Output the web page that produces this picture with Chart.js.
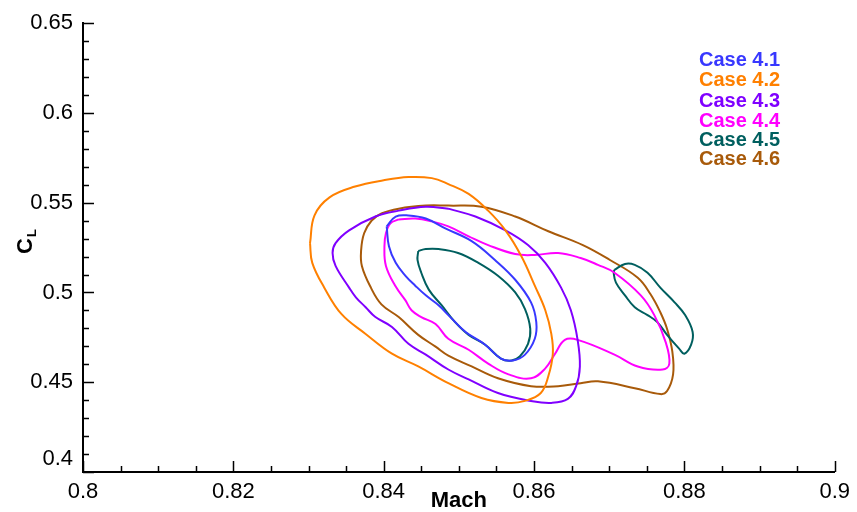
<!DOCTYPE html>
<html>
<head>
<meta charset="utf-8">
<script src="https://cdn.jsdelivr.net/npm/chart.js@4.4.1/dist/chart.umd.min.js"></script>
<style>
  html, body { margin: 0; padding: 0; background: #ffffff; }
  #wrap { width: 857px; height: 512px; }
</style>
</head>
<body>
<div id="wrap"><canvas id="c" width="857" height="512"></canvas></div>
<script>
// ---- data ----
const caseNames = ['Case 4.1', 'Case 4.2', 'Case 4.3', 'Case 4.4', 'Case 4.5', 'Case 4.6'];
const xTickLabels = ['0.8', '0.82', '0.84', '0.86', '0.88', '0.9'];
const yTickLabels = ['0.4', '0.45', '0.5', '0.55', '0.6', '0.65'];

const case41Mach = [0.8404,0.8416,0.8433,0.8456,0.8482,0.8517,0.8548,0.8575,0.8596,0.8603,0.8601,0.8588,0.8572,0.8556,0.8535,0.8509,0.8486,0.8473,0.8456,0.8442,0.8429,0.8416,0.8407,0.8404];
const case41CL   = [0.5368,0.5423,0.5429,0.5412,0.5357,0.5286,0.5181,0.5071,0.4945,0.4835,0.4742,0.4654,0.4621,0.4632,0.4709,0.4780,0.4874,0.4929,0.4984,0.5038,0.5093,0.5165,0.5258,0.5368];

const case42Mach = [0.8302,0.8308,0.8328,0.8362,0.8400,0.8433,0.8464,0.8486,0.8513,0.8539,0.8562,0.8583,0.8601,0.8615,0.8623,0.8625,0.8619,0.8609,0.8588,0.8566,0.8530,0.8486,0.8446,0.8411,0.8376,0.8344,0.8321,0.8305,0.8302];
const case42CL   = [0.5275,0.5430,0.5530,0.5590,0.5625,0.5643,0.5637,0.5604,0.5549,0.5456,0.5346,0.5203,0.5038,0.4901,0.4769,0.4659,0.4533,0.4440,0.4396,0.4385,0.4412,0.4495,0.4588,0.4659,0.4769,0.4879,0.5027,0.5165,0.5275];

const case43Mach = [0.8486,0.8456,0.8420,0.8389,0.8354,0.8336,0.8332,0.8336,0.8354,0.8363,0.8376,0.8389,0.8411,0.8433,0.8456,0.8486,0.8513,0.8552,0.8596,0.8623,0.8645,0.8656,0.8661,0.8658,0.8649,0.8636,0.8615,0.8592,0.8562,0.8522,0.8486];
const case43CL   = [0.5467,0.5478,0.5456,0.5423,0.5346,0.5275,0.5220,0.5148,0.5027,0.4973,0.4918,0.4863,0.4808,0.4714,0.4654,0.4571,0.4516,0.4440,0.4396,0.4385,0.4407,0.4478,0.4588,0.4736,0.4901,0.5027,0.5165,0.5264,0.5346,0.5423,0.5467];

const case44Mach = [0.8420,0.8442,0.8464,0.8486,0.8513,0.8539,0.8575,0.8601,0.8632,0.8662,0.8685,0.8707,0.8742,0.8760,0.8775,0.8780,0.8771,0.8738,0.8707,0.8658,0.8641,0.8628,0.8615,0.8596,0.8566,0.8539,0.8513,0.8486,0.8469,0.8450,0.8437,0.8429,0.8416,0.8403,0.8401,0.8403,0.8409,0.8420];
const case44CL   = [0.5407,0.5412,0.5396,0.5368,0.5313,0.5264,0.5214,0.5209,0.5220,0.5192,0.5154,0.5110,0.4984,0.4874,0.4725,0.4604,0.4571,0.4588,0.4654,0.4736,0.4736,0.4659,0.4577,0.4522,0.4544,0.4604,0.4681,0.4742,0.4824,0.4863,0.4901,0.4956,0.5033,0.5148,0.5258,0.5330,0.5385,0.5407];

const case45aMach = [0.8446,0.8456,0.8473,0.8499,0.8526,0.8552,0.8575,0.8588,0.8595,0.8592,0.8581,0.8570,0.8556,0.8535,0.8513,0.8495,0.8477,0.8460,0.8450,0.8445,0.8446];
const case45aCL   = [0.5231,0.5242,0.5242,0.5220,0.5165,0.5093,0.5000,0.4907,0.4797,0.4714,0.4643,0.4621,0.4632,0.4709,0.4764,0.4835,0.4929,0.5016,0.5110,0.5181,0.5231];
const case45bMach = [0.8707,0.8721,0.8734,0.8751,0.8768,0.8787,0.8801,0.8811,0.8809,0.8800,0.8793,0.8777,0.8764,0.8751,0.8734,0.8721,0.8709,0.8706,0.8707];
const case45bCL   = [0.5126,0.5159,0.5154,0.5110,0.5027,0.4945,0.4874,0.4780,0.4709,0.4659,0.4687,0.4764,0.4835,0.4874,0.4918,0.4984,0.5055,0.5110,0.5126];

const case46Mach = [0.8486,0.8456,0.8420,0.8397,0.8384,0.8374,0.8370,0.8371,0.8383,0.8397,0.8420,0.8446,0.8469,0.8486,0.8517,0.8552,0.8596,0.8632,0.8662,0.8685,0.8734,0.8768,0.8777,0.8785,0.8784,0.8777,0.8768,0.8755,0.8738,0.8701,0.8665,0.8619,0.8575,0.8530,0.8486];
const case46CL   = [0.5484,0.5484,0.5467,0.5440,0.5401,0.5330,0.5236,0.5148,0.5027,0.4934,0.4863,0.4764,0.4698,0.4648,0.4588,0.4522,0.4478,0.4478,0.4495,0.4505,0.4467,0.4434,0.4451,0.4544,0.4670,0.4797,0.4890,0.4990,0.5082,0.5181,0.5264,0.5341,0.5423,0.5478,0.5484];

const caseColors = ['#3838ff', '#ff8000', '#8000ff', '#ff00ff', '#005f5f', '#a85a0a'];

// ---- build datasets ----
function pts(xs, ys) { return xs.map((x, i) => ({ x: x, y: ys[i] })); }
const series = [
  { name: caseNames[0], color: caseColors[0], data: pts(case41Mach, case41CL) },
  { name: caseNames[1], color: caseColors[1], data: pts(case42Mach, case42CL) },
  { name: caseNames[2], color: caseColors[2], data: pts(case43Mach, case43CL) },
  { name: caseNames[3], color: caseColors[3], data: pts(case44Mach, case44CL) },
  { name: caseNames[4], color: caseColors[4], data: pts(case45aMach, case45aCL) },
  { name: caseNames[4], color: caseColors[4], data: pts(case45bMach, case45bCL) },
  { name: caseNames[5], color: caseColors[5], data: pts(case46Mach, case46CL) }
];
const datasets = series.map(s => ({
  label: s.name,
  data: s.data,
  showLine: true,
  borderColor: s.color,
  backgroundColor: s.color,
  borderWidth: 2,
  pointRadius: 0,
  pointHoverRadius: 0,
  tension: 0.4,
  fill: false
}));

const FONT = '"Liberation Sans", Arial, Helvetica, sans-serif';

// inward ticks, axis titles and text legend
const decor = {
  id: 'decor',
  afterDraw(chart) {
    const ctx = chart.ctx;
    const xs = chart.scales.x, ys = chart.scales.y;
    const area = chart.chartArea;
    ctx.save();
    ctx.strokeStyle = '#000';
    ctx.lineWidth = 1.5;
    ctx.beginPath();
    xs.ticks.forEach(t => {
      const k = Math.round(t.value * 1000);
      const len = (k % 20 === 0) ? 11 : 6;
      const px = Math.round(xs.getPixelForValue(t.value)) + 0.5;
      ctx.moveTo(px, area.bottom);
      ctx.lineTo(px, area.bottom - len);
    });
    ys.ticks.forEach(t => {
      const k = Math.round(t.value * 100);
      const len = (k % 5 === 0) ? 11 : 6;
      const py = Math.round(ys.getPixelForValue(t.value)) + 0.5;
      ctx.moveTo(area.left, py);
      ctx.lineTo(area.left + len, py);
    });
    ctx.stroke();

    // x title
    ctx.fillStyle = '#000';
    ctx.font = 'bold 22px ' + FONT;
    ctx.textAlign = 'center';
    ctx.textBaseline = 'middle';
    ctx.fillText('Mach', (area.left + area.right) / 2, 501);

    // y title  C_L
    ctx.save();
    ctx.translate(24, 242);
    ctx.rotate(-Math.PI / 2);
    ctx.textAlign = 'left';
    ctx.textBaseline = 'alphabetic';
    ctx.font = 'bold 22px ' + FONT;
    const wC = ctx.measureText('C').width;
    ctx.fillText('C', -wC / 2 - 4, 8);
    ctx.font = 'bold 13px ' + FONT;
    ctx.fillText('L', wC / 2 - 3, 12);
    ctx.restore();

    // legend text
    ctx.font = 'bold 20px ' + FONT;
    ctx.textAlign = 'left';
    ctx.textBaseline = 'middle';
    const ly = [60, 80, 101, 121, 140, 159];
    caseNames.forEach((n, i) => {
      ctx.fillStyle = caseColors[i];
      ctx.fillText(n, 699, ly[i]);
    });
    ctx.restore();
  }
};

new Chart(document.getElementById('c'), {
  type: 'scatter',
  data: { datasets: datasets },
  options: {
    responsive: false,
    devicePixelRatio: 1,
    animation: false,
    layout: { padding: { left: 0, top: 17, right: 19, bottom: 0 } },
    plugins: { legend: { display: false }, tooltip: { enabled: false } },
    scales: {
      x: {
        type: 'linear', min: 0.8, max: 0.9,
        grid: { display: false, drawTicks: false },
        border: { display: true, color: '#000', width: 2 },
        ticks: {
          stepSize: 0.005, autoSkip: false, maxRotation: 0, padding: 7,
          color: '#000', font: { family: FONT, size: 22 },
          callback: v => { const k = Math.round(v * 1000); return (k % 20 === 0) ? xTickLabels[(k - 800) / 20] : ''; }
        },
        afterFit: s => { s.height = 40; }
      },
      y: {
        type: 'linear', min: 0.4, max: 0.65,
        grid: { display: false, drawTicks: false },
        border: { display: true, color: '#000', width: 2 },
        ticks: {
          stepSize: 0.01, autoSkip: false, padding: 10,
          color: '#000', font: { family: FONT, size: 22 },
          callback: v => {
            const k = Math.round(v * 100);
            if (k % 5 !== 0) return '';
            const lab = yTickLabels[(k - 40) / 5];
            return k === 40 ? [lab, ''] : lab;
          }
        },
        afterFit: s => { s.width = 83; }
      }
    }
  },
  plugins: [decor]
});
</script>
</body>
</html>
